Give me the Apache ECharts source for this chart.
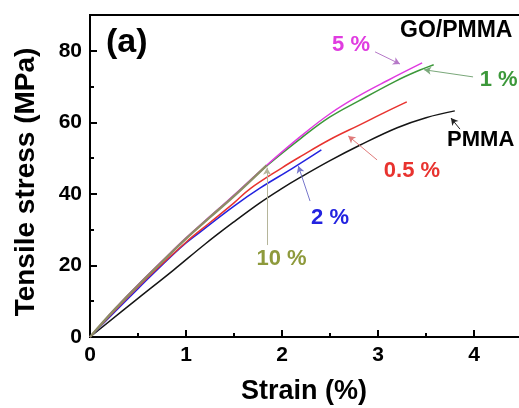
<!DOCTYPE html>
<html>
<head>
<meta charset="utf-8">
<script src="https://cdn.jsdelivr.net/npm/echarts@6/dist/echarts.min.js"></script>
<style>
  html, body { margin: 0; padding: 0; background: #fff; }
  #chart { width: 519px; height: 408px; }
</style>
</head>
<body>
<div id="chart"></div>
<script>
// ---- Data ----
const xTicks = [0, 1, 2, 3, 4, 5];
const yTicks = [0, 20, 40, 60, 80];

const strainPMMA = [0, 0.5, 0.87, 1.2, 1.5, 1.77, 1.98, 2.19, 2.5, 2.81, 3.2, 3.5, 3.8];
const stressPMMA = [0, 10.8, 18.7, 26.0, 32.2, 37.5, 41.2, 44.6, 49.3, 53.6, 58.5, 61.3, 63.2];

const strainGO05 = [0, 0.5, 1.0, 1.25, 1.5, 1.67, 2.0, 2.19, 2.5, 2.81, 3.05, 3.3];
const stressGO05 = [0, 14.0, 26.5, 32.0, 37.5, 41.5, 47.3, 50.4, 55.2, 59.3, 62.5, 65.7];

const strainGO2 = [0, 0.5, 0.94, 1.15, 1.5, 1.77, 2.1, 2.41];
const stressGO2 = [0, 13.5, 24.9, 29.4, 36.6, 41.6, 47.0, 52.3];

const strainGO1 = [0, 0.25, 0.5, 0.75, 1.0, 1.25, 1.5, 1.84, 2.2, 2.5, 2.8, 3.19, 3.4, 3.58];
const stressGO1 = [0, 7.5, 14.5, 21.0, 27.5, 33.5, 39.5, 47.8, 55.6, 61.5, 66.0, 71.6, 74.2, 76.1];

const strainGO5 = [0, 0.25, 0.5, 0.75, 1.0, 1.25, 1.5, 1.84, 2.2, 2.5, 2.8, 3.1, 3.46];
const stressGO5 = [0, 7.6, 14.6, 21.2, 27.7, 33.7, 39.7, 48.0, 56.2, 62.4, 67.4, 71.7, 76.6];

const strainGO10 = [0, 0.25, 0.5, 0.75, 1.0, 1.25, 1.5, 1.84];
const stressGO10 = [0, 7.5, 14.4, 21.0, 27.5, 33.5, 39.4, 48.0];

function zip(xs, ys) { return xs.map((x, i) => [x, ys[i]]); }

const FONT = "'Liberation Sans', Arial, sans-serif";
const C = {
  pmma: '#151515', r05: '#e8332f', b2: '#2323e0', g1: '#3c983a', m5: '#e03ce0', o10: '#8e9a3c',
  o10line: '#8d8d66'
};

function textMark(coord, text, color, pos) {
  return {
    coord: coord, symbol: 'circle', symbolSize: 0,
    label: { show: true, formatter: text, position: pos || 'inside', distance: 0,
             color: color, fontFamily: FONT, fontWeight: 'bold', fontSize: 22 }
  };
}
function arrow(from, to) {
  return [{ coord: from }, { coord: to }];
}
function markLineOf(color, items) {
  return {
    silent: true, symbol: ['none', 'arrow'], symbolSize: [6, 7],
    lineStyle: { color: color, width: 1, type: 'solid' },
    label: { show: false }, emphasis: { disabled: true },
    data: items
  };
}

const chart = echarts.init(document.getElementById('chart'), null, { renderer: 'canvas' });

const option = {
  animation: false,
  backgroundColor: '#fff',
  grid: { left: 90, top: 15, width: 480, height: 322, show: true, borderColor: '#000', borderWidth: 2,
          backgroundColor: 'transparent', containLabel: false, outerBoundsMode: 'none' },
  xAxis: {
    type: 'value', min: xTicks[0], max: xTicks[xTicks.length - 1], interval: 1,
    axisLine: { show: true, lineStyle: { color: '#000', width: 2 } },
    axisTick: { show: true, inside: true, length: 7, lineStyle: { color: '#000', width: 2 } },
    minorTick: { show: true, splitNumber: 2, length: 4, lineStyle: { color: '#000', width: 2 } },
    splitLine: { show: false },
    axisLabel: { color: '#000', fontFamily: FONT, fontWeight: 'bold', fontSize: 21, margin: 8,
                 formatter: v => xTicks.includes(v) ? String(v) : '' },
    name: 'Strain (%)', nameLocation: 'middle', nameGap: 41,
    nameTextStyle: { color: '#000', fontFamily: FONT, fontWeight: 'bold', fontSize: 27, padding: [0, 52, 0, 0] }
  },
  yAxis: [{
    type: 'value', min: 0, max: 90, interval: 20, position: 'left',
    axisLine: { show: true, lineStyle: { color: '#000', width: 2 } },
    axisTick: { show: true, inside: true, length: 7, lineStyle: { color: '#000', width: 2 } },
    splitLine: { show: false },
    axisLabel: { color: '#000', fontFamily: FONT, fontWeight: 'bold', fontSize: 21, margin: 8,
                 formatter: v => yTicks.includes(v) ? String(v) : '' },
    name: 'Tensile stress (MPa)', nameLocation: 'middle', nameGap: 50, nameRotate: 90,
    nameTextStyle: { color: '#000', fontFamily: FONT, fontWeight: 'bold', fontSize: 28, padding: [0, 12, 0, 0] }
  }, {
    type: 'value', min: 0, max: 90, interval: 10, position: 'left', offset: 0,
    axisLine: { show: false },
    axisTick: { show: true, inside: true, length: 4, lineStyle: { color: '#000', width: 2 } },
    splitLine: { show: false },
    axisLabel: { show: false }
  }],
  graphic: [
    { type: 'text', left: 106, top: 26, silent: true,
      style: { text: '(a)', fill: '#000', font: "bold 34px 'Liberation Sans', Arial, sans-serif" } },
    { type: 'text', left: 400, top: 19, silent: true,
      style: { text: 'GO/PMMA', fill: '#000', font: "bold 23px 'Liberation Sans', Arial, sans-serif" } }
  ],
  series: [
    { name: 'PMMA', type: 'line', smooth: 0.4, showSymbol: false, yAxisIndex: 0,
      data: zip(strainPMMA, stressPMMA), lineStyle: { color: C.pmma, width: 1.5 }, itemStyle: { color: C.pmma },
      markPoint: { silent: true, data: [textMark([3.72, 55.1], 'PMMA', '#000', 'right')] },
      markLine: markLineOf('#222', [arrow([3.854, 58.1], [3.76, 61.2])]) },
    { name: '2 %', type: 'line', smooth: 0.4, showSymbol: false, yAxisIndex: 0,
      data: zip(strainGO2, stressGO2), lineStyle: { color: C.b2, width: 1.5 }, itemStyle: { color: C.b2 },
      markPoint: { silent: true, data: [textMark([2.5, 33.4], '2 %', C.b2)] },
      markLine: markLineOf('#7777cc', [arrow([2.292, 38.0], [2.17, 47.8])]) },
    { name: '0.5 %', type: 'line', smooth: 0.4, showSymbol: false, yAxisIndex: 0,
      data: zip(strainGO05, stressGO05), lineStyle: { color: C.r05, width: 1.5 }, itemStyle: { color: C.r05 },
      markPoint: { silent: true, data: [textMark([3.354, 46.3], '0.5 %', C.r05)] },
      markLine: markLineOf('#e07a7a', [arrow([2.99, 49.5], [2.69, 56.2])]) },
    { name: '1 %', type: 'line', smooth: 0.4, showSymbol: false, yAxisIndex: 0,
      data: zip(strainGO1, stressGO1), lineStyle: { color: C.g1, width: 1.5 }, itemStyle: { color: C.g1 },
      markPoint: { silent: true, data: [textMark([4.06, 71.9], '1 %', C.g1, 'right')] },
      markLine: markLineOf('#7aa87a', [arrow([3.99, 72.7], [3.48, 74.7])]) },
    { name: '5 %', type: 'line', smooth: 0.4, showSymbol: false, yAxisIndex: 0,
      data: zip(strainGO5, stressGO5), lineStyle: { color: C.m5, width: 1.5 }, itemStyle: { color: C.m5 },
      markPoint: { silent: true, data: [textMark([2.719, 81.5], '5 %', C.m5)] },
      markLine: markLineOf('#b679c8', [arrow([2.969, 79.7], [3.229, 76.3])]) },
    { name: '10 %', type: 'line', smooth: 0.4, showSymbol: false, yAxisIndex: 0,
      data: zip(strainGO10, stressGO10), lineStyle: { color: C.o10line, width: 2.4 }, itemStyle: { color: C.o10line },
      markPoint: { silent: true, data: [textMark([1.995, 21.8], '10 %', C.o10)] },
      markLine: markLineOf('#b5b59a', [arrow([1.844, 25.7], [1.844, 47.3])]) }
  ]
};

chart.setOption(option);
</script>
</body>
</html>
